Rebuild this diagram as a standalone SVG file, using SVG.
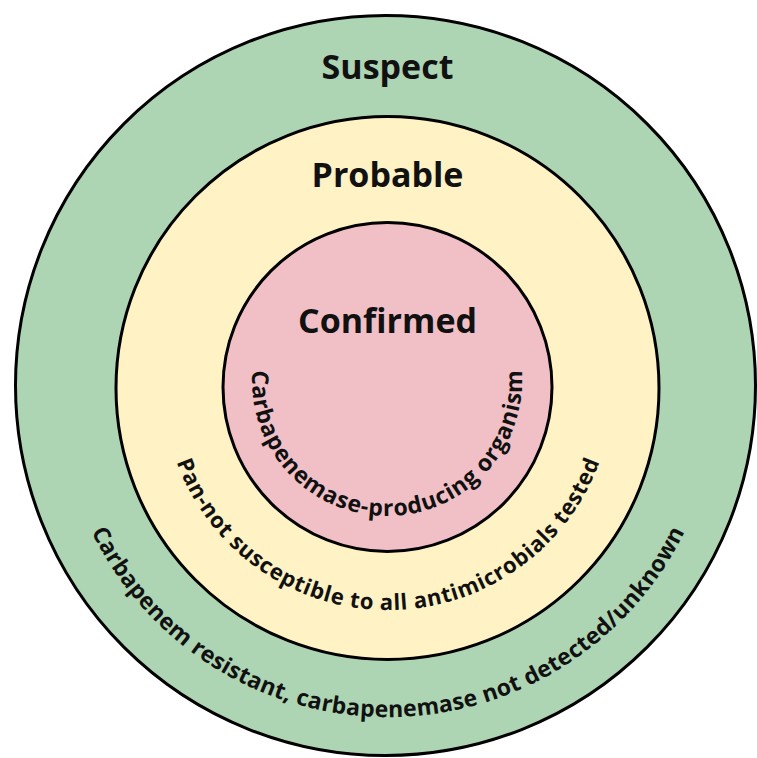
<svg xmlns="http://www.w3.org/2000/svg" width="757" height="758" viewBox="0 0 757 758">
  <style>
    .ring { stroke: #000; stroke-width: 3; }
    .title { font-family: "Open Sans", "Noto Sans", "Liberation Sans", sans-serif; font-weight: 700; font-size: 34px; fill: #111; text-anchor: middle; }
    .arc { font-family: "Open Sans", "Noto Sans", "Liberation Sans", sans-serif; font-weight: 700; fill: #111; text-anchor: middle; }
  </style>
  <defs>
    <path id="pInner" d="M 254.05 357.56 A 135 135 0 1 0 519.95 357.56" fill="none"/>
    <path id="pMiddle" d="M 166.4 424.1 A 225 225 0 0 0 609.6 424.1" fill="none"/>
    <path id="pOuter" d="M 69.2 472.4 A 330 330 0 0 0 706.8 472.4" fill="none"/>
  </defs>
  <rect width="757" height="758" fill="#ffffff"/>
  <g id="suspect">
    <circle class="ring" cx="385.5" cy="385.5" r="370" fill="#aed5b3"/>
    <text class="title" x="387.5" y="79">Suspect</text>
  </g>
  <g id="probable">
    <circle class="ring" cx="387.5" cy="388" r="271.5" fill="#fff2c4"/>
    <text class="title" x="387.5" y="187">Probable</text>
  </g>
  <g id="confirmed">
    <circle class="ring" cx="387.5" cy="387" r="164.5" fill="#f0c0c6"/>
    <text class="title" x="387.5" y="333">Confirmed</text>
  </g>
  <g id="labels">
    <text class="arc" font-size="23"><textPath href="#pInner" startOffset="50%" textLength="445" lengthAdjust="spacing">Carbapenemase-producing organism</textPath></text>
    <text class="arc" font-size="22"><textPath href="#pMiddle" startOffset="50%" textLength="550" lengthAdjust="spacing">Pan-not susceptible to all antimicrobials tested</textPath></text>
    <text class="arc" font-size="23"><textPath href="#pOuter" startOffset="50%" textLength="737" lengthAdjust="spacing">Carbapenem resistant, carbapenemase not detected/unknown</textPath></text>
  </g>
  <g id="connectors"/>
</svg>
